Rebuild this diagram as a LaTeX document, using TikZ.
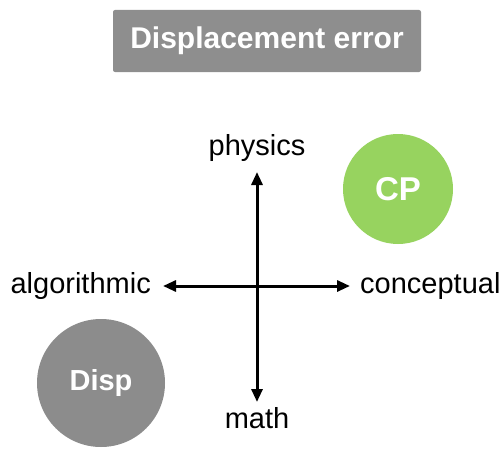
\documentclass[tikz,border=0pt]{standalone}
\usepackage{fontspec}
\setmainfont{Liberation Sans}
\usepackage{xcolor}
\usetikzlibrary{arrows.meta,positioning}
\definecolor{boxgray}{HTML}{8E8E8E}
\definecolor{dispgray}{HTML}{8C8C8C}
\definecolor{cpgreen}{HTML}{97D35F}
\tikzset{
  title/.style={fill=boxgray, rounded corners=2pt, text=white,
                minimum width=308pt, minimum height=62pt,
                font=\fontsize{30}{36}\selectfont\bfseries},
  blob/.style={circle, text=white, inner sep=0pt, font=\bfseries},
  axislbl/.style={font=\fontsize{29}{34}\selectfont, inner sep=0pt},
  axis/.style={{Triangle[length=13pt,width=11pt]}-{Triangle[length=13pt,width=11pt]},
               line width=3pt},
}
\begin{document}
\begin{tikzpicture}[x=1pt,y=-1pt]
\useasboundingbox (0,0) rectangle (503,452);

% ---- title ---------------------------------------------------------
\node[title] (ttl) at (267,41) {Displacement error};

% ---- axis labels ---------------------------------------------------
\node[axislbl] (phys) at (257,148) {physics};
\node[axislbl] (math) at (257,418) {math};
\node[axislbl, anchor=east] (algo) at (151,286) {algorithmic};
\node[axislbl, anchor=west] (conc) at (360,286) {conceptual};

% ---- axes ----------------------------------------------------------
\coordinate (l) at (163,286);
\coordinate (r) at (350,286);
\coordinate (t) at (257,172);
\coordinate (b) at (257,402);
\draw[axis] (l) -- (r);
\draw[axis] (t) -- (b);

% ---- circles -------------------------------------------------------
\node[blob, fill=cpgreen, minimum size=110pt,
      font=\fontsize{33}{38}\selectfont\bfseries] (cp) at (398,189) {CP};
\node[blob, fill=dispgray, minimum size=128pt,
      font=\fontsize{29}{34}\selectfont\bfseries] (disp) at (101,383) {Disp};
\end{tikzpicture}
\end{document}
